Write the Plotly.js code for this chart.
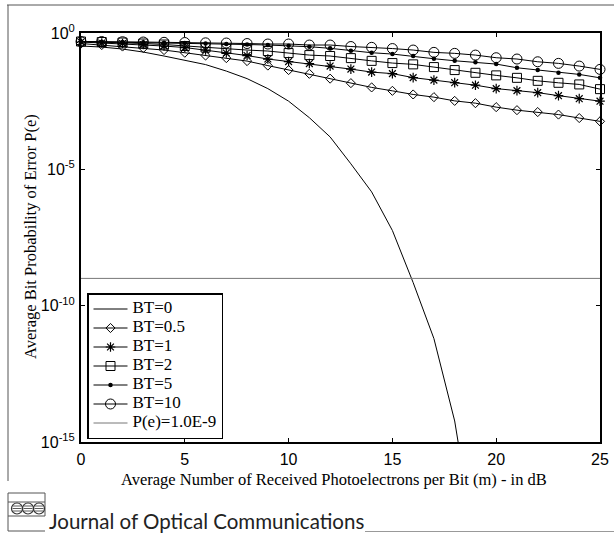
<!DOCTYPE html>
<html>
<head>
<meta charset="utf-8">
<script src="https://cdn.plot.ly/plotly-3.0.1.min.js"></script>
<style>
html,body{margin:0;padding:0;background:#fff;}
#chart{width:614px;height:533px;}
</style>
</head>
<body>
<div id="chart"></div>
<script>
// ---- data ----
const mDb = [0,1,2,3,4,5,6,7,8,9,10,11,12,13,14,15,16,17,18,19,20,21,22,23,24,25];
const mDbBT0 = [0,1,2,3,4,5,6,7,8,9,10,11,12,13,14,15,16,17,18,19];
const peBT0 = [0.333,0.305,0.258,0.200,0.143,0.0975,0.0695,0.0401,0.0212,0.00912,3.16e-3,7.82e-4,1.54e-4,1.59e-5,1.49e-6,5.71e-8,7.0e-10,6.2e-12,5.9e-15,1.3e-19];
const peBT05 = [0.411,0.362,0.319,0.281,0.237,0.189,0.149,0.120,0.0933,0.0638,0.0437,0.0319,0.0212,0.0145,0.0101,0.00757,0.00557,0.00444,0.00324,0.00267,0.00191,0.00148,0.00126,0.00102,7.6e-4,5.75e-4];
const peBT1 = [0.467,0.429,0.411,0.378,0.333,0.293,0.237,0.184,0.149,0.111,0.0896,0.0757,0.0612,0.0475,0.0368,0.0324,0.0231,0.0187,0.0151,0.0122,0.00912,0.00769,0.00649,0.00504,0.00391,0.00316];
const peBT2 = [0.487,0.467,0.448,0.411,0.378,0.333,0.293,0.258,0.237,0.218,0.184,0.155,0.143,0.120,0.0951,0.0789,0.0707,0.0562,0.0437,0.0347,0.0279,0.0227,0.0176,0.0149,0.0130,0.00873];
const peBT5 = [0.487,0.475,0.467,0.455,0.440,0.429,0.411,0.394,0.378,0.362,0.341,0.314,0.274,0.224,0.189,0.169,0.143,0.114,0.0959,0.0838,0.0725,0.0530,0.0437,0.0347,0.0303,0.0227];
const peBT10 = [0.487,0.487,0.479,0.467,0.455,0.448,0.436,0.429,0.411,0.394,0.394,0.362,0.362,0.319,0.298,0.269,0.237,0.195,0.179,0.155,0.124,0.111,0.0881,0.0769,0.0612,0.0463];
const thresholdX = [0,25];
const thresholdPe = [1e-9,1e-9];
const seriesNames = ['BT=0','BT=0.5','BT=1','BT=2','BT=5','BT=10','P(e)=1.0E-9'];
const xTicks = [0,5,10,15,20,25];
const yTickVals = [1e-15,1e-10,1e-5,1];
const yTickText = ['10<sup>-15</sup>','10<sup>-10</sup>','10<sup>-5</sup>','10<sup>0</sup>'];

// ---- pixel -> paper helpers for decorations ----
const L=81, R=600, T=33, B=442;
const px = v => (v-L)/(R-L);
const py = v => (B-v)/(B-T);

const legendLabel = s => '<span style="font-size:17px">' + s + '</span>';
const lineStyle = {color:'#000', width:1};
const traces = [
  {x:mDbBT0, y:peBT0, name:legendLabel(seriesNames[0]), mode:'lines', line:lineStyle},
  {x:mDb, y:peBT05, name:legendLabel(seriesNames[1]), mode:'lines+markers', line:lineStyle,
   marker:{symbol:'diamond-open', size:7, color:'#000', line:{width:1}}},
  {x:mDb, y:peBT1, name:legendLabel(seriesNames[2]), mode:'lines+markers', line:lineStyle,
   marker:{symbol:'asterisk-open', size:8, color:'#000', line:{width:1.2, color:'#000'}}},
  {x:mDb, y:peBT2, name:legendLabel(seriesNames[3]), mode:'lines+markers', line:lineStyle,
   marker:{symbol:'square-open', size:9, color:'#000', line:{width:1}}},
  {x:mDb, y:peBT5, name:legendLabel(seriesNames[4]), mode:'lines+markers', line:lineStyle,
   marker:{symbol:'circle', size:4.5, color:'#000'}},
  {x:mDb, y:peBT10, name:legendLabel(seriesNames[5]), mode:'lines+markers', line:lineStyle,
   marker:{symbol:'circle-open', size:10, color:'#000', line:{width:1}}},
  {x:thresholdX, y:thresholdPe, name:legendLabel(seriesNames[6]), mode:'lines', line:{color:'#777', width:1}}
];
traces.forEach(t => t.cliponaxis = false);
traces[0].cliponaxis = true;

const shapes = [
  // outer frame
  {type:'line', xref:'paper', yref:'paper', x0:px(7), x1:px(614), y0:py(5), y1:py(5), line:{color:'#555', width:1}},
  {type:'line', xref:'paper', yref:'paper', x0:px(8), x1:px(8), y0:py(5), y1:py(481), line:{color:'#555', width:1}},
  // logo box
  {type:'line', xref:'paper', yref:'paper', x0:px(8), x1:px(45), y0:py(493), y1:py(493), line:{color:'#555', width:1}},
  {type:'line', xref:'paper', yref:'paper', x0:px(8), x1:px(45), y0:py(502), y1:py(502), line:{color:'#555', width:1}},
  {type:'line', xref:'paper', yref:'paper', x0:px(8), x1:px(45), y0:py(516), y1:py(516), line:{color:'#555', width:1}},
  {type:'line', xref:'paper', yref:'paper', x0:px(8), x1:px(45), y0:py(531), y1:py(531), line:{color:'#555', width:1}},
  {type:'line', xref:'paper', yref:'paper', x0:px(8), x1:px(8), y0:py(493), y1:py(531), line:{color:'#555', width:1}},
  {type:'line', xref:'paper', yref:'paper', x0:px(45), x1:px(45), y0:py(493), y1:py(516), line:{color:'#555', width:1}},
  // bottom rule after journal name
  {type:'line', xref:'paper', yref:'paper', x0:px(365), x1:px(614), y0:py(531.5), y1:py(531.5), line:{color:'#999', width:1}}
];
[17,28,39].forEach(cx => {
  shapes.push({type:'circle', xref:'paper', yref:'paper', x0:px(cx-5.5), x1:px(cx+5.5), y0:py(514), y1:py(503),
    line:{color:'#333', width:1.2}, fillcolor:'rgba(255,255,255,0)'});
  [506,508.5,511].forEach(yy => shapes.push({type:'line', xref:'paper', yref:'paper', x0:px(cx-4.5), x1:px(cx+4.5), y0:py(yy), y1:py(yy), line:{color:'#333', width:0.8}}));
});

const serif = 'Liberation Serif, Times New Roman, serif';
const layout = {
  width:614, height:533,
  margin:{l:L, r:614-R, t:T, b:533-B},
  paper_bgcolor:'#fff', plot_bgcolor:'#fff',
  showlegend:true,
  font:{family:'Liberation Sans, Arial, sans-serif', color:'#000', size:16},
  xaxis:{
    range:[0,25], tickvals:xTicks, ticks:'inside', ticklen:4, tickwidth:1, tickcolor:'#000',
    showline:true, linecolor:'#000', linewidth:2, mirror:'ticks', showgrid:false, zeroline:false,
    tickfont:{family:'Liberation Sans, Arial, sans-serif', size:16}, ticklabelstandoff:2
  },
  yaxis:{
    type:'log', range:[-15,0], tickvals:yTickVals, ticktext:yTickText,
    ticks:'inside', ticklen:4, tickwidth:1, tickcolor:'#000',
    showline:true, linecolor:'#000', linewidth:2, mirror:'ticks', showgrid:false, zeroline:false,
    tickfont:{family:'Liberation Sans, Arial, sans-serif', size:16}, ticklabelstandoff:1
  },
  legend:{
    x:px(87), y:py(293), xanchor:'left', yanchor:'top',
    bgcolor:'#fff', bordercolor:'#000', borderwidth:1.5,
    font:{family:serif, size:11, color:'#000'},
    itemwidth:34,
    tracegroupgap:0
  },
  shapes:shapes,
  annotations:[
    {text:'Average Number of Received Photoelectrons per Bit (m) - in dB', xref:'paper', yref:'paper',
     x:px(334), y:py(479), xanchor:'center', yanchor:'middle', showarrow:false,
     font:{family:serif, size:16.5, color:'#000'}},
    {text:'Average Bit Probability of Error P(e)', xref:'paper', yref:'paper', textangle:-90,
     x:px(30), y:py(237), xanchor:'center', yanchor:'middle', showarrow:false,
     font:{family:serif, size:16.5, color:'#000'}},
    {text:'Journal of Optical Communications', xref:'paper', yref:'paper', x:px(47), y:py(535),
     xanchor:'left', yanchor:'bottom', showarrow:false,
     font:{family:'Lato, sans-serif', size:20.5, color:'#222'}}
  ]
};

Plotly.newPlot('chart', traces, layout, {displayModeBar:false, staticPlot:true});
</script>
</body>
</html>
